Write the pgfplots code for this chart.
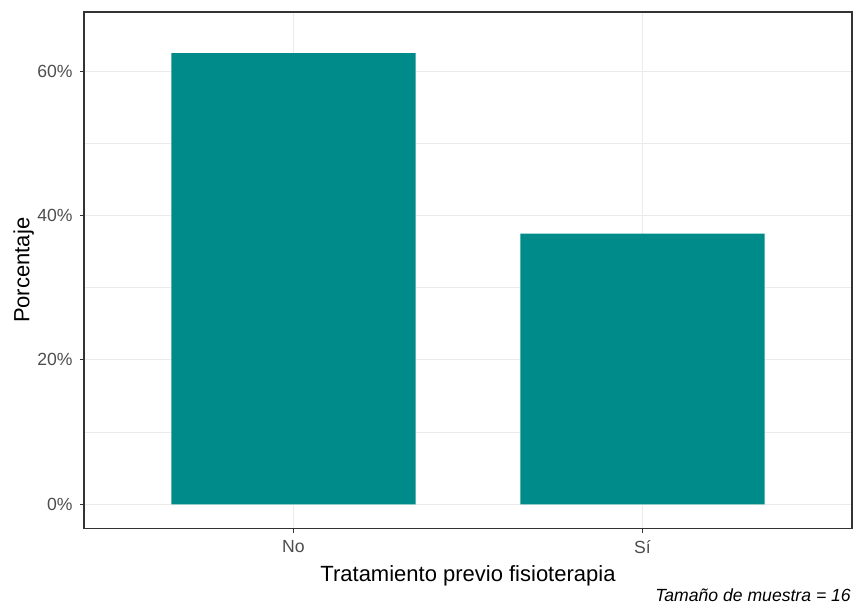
\documentclass[border=0pt]{standalone}
\usepackage{fontspec}
\setmainfont{Liberation Sans}
\usepackage{pgfplots}
\pgfplotsset{compat=1.18}
\definecolor{barfill}{HTML}{008B8B}
\definecolor{gridc}{HTML}{EBEBEB}
\definecolor{axtext}{HTML}{4D4D4D}
\definecolor{framec}{HTML}{333333}

\begin{document}
\begin{tikzpicture}
\path[use as bounding box] (-42pt,-39.65pt) rectangle (386.5pt,264.35pt);
\begin{axis}[
  at={(0,0)}, anchor=south west,
  scale only axis, width=384pt, height=258.35pt,
  xmin=0.4, xmax=2.6, ymin=-3.38, ymax=68.2,
  xtick={1,2}, xticklabels={No,Sí},
  ytick={0,20,40,60}, yticklabels={0\%,20\%,40\%,60\%},
  minor ytick={10,30,50},
  grid=both,
  major grid style={gridc, line width=0.55pt},
  minor grid style={gridc, line width=0.3pt},
  axis line style={framec, line width=0.55pt},
  tick align=outside, tick pos=left,
  major tick length=2.2pt, minor tick length=0pt,
  tick style={framec, line width=0.5pt},
  ticklabel style={font=\fontsize{8.8}{10}\selectfont, text=axtext},
  every axis x label/.style={at={(rel axis cs:0.5,0)}, anchor=base, yshift=-26.6pt, font=\fontsize{11}{13}\selectfont},
  every axis y label/.style={at={(rel axis cs:0,0.5)}, xshift=-27.25pt, rotate=90, anchor=base, font=\fontsize{11}{13}\selectfont},
  xlabel={Tratamiento previo fisioterapia},
  ylabel={Porcentaje},
  clip=false,
]
\addplot[ybar, bar width=0.7, fill=barfill, draw=none] coordinates {(1,62.5) (2,37.5)};
\end{axis}
\node[anchor=base east, inner sep=0pt, font=\fontsize{8.8}{10}\selectfont\itshape]
  at (383.6pt,-36.2pt) {Tamaño de muestra = 16};
\end{tikzpicture}
\end{document}
